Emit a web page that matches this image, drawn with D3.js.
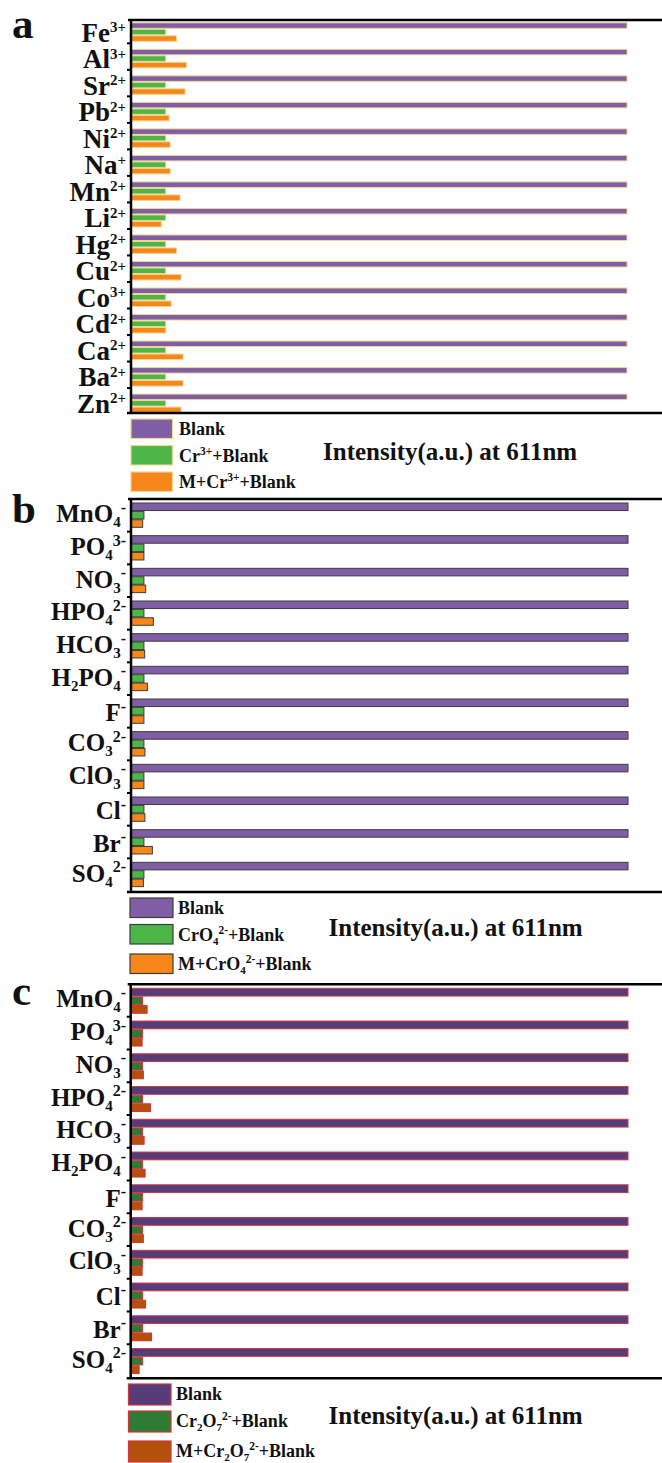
<!DOCTYPE html>
<html>
<head>
<meta charset="utf-8">
<script src="https://cdn.jsdelivr.net/npm/d3@7/dist/d3.min.js"></script>
<style>
  html, body { margin: 0; padding: 0; background: #fff; }
  svg { display: block; }
  text { font-family: "Liberation Serif", "Times New Roman", serif; font-weight: bold; fill: #111; }
</style>
</head>
<body>
<svg id="chart" width="662" height="1463"></svg>
<script>
'use strict';

/* ── Data (relative intensity, Blank = 100) ── */
const cationLabels = ['Fe^{3+}', 'Al^{3+}', 'Sr^{2+}', 'Pb^{2+}', 'Ni^{2+}', 'Na^{+}', 'Mn^{2+}', 'Li^{2+}',
  'Hg^{2+}', 'Cu^{2+}', 'Co^{3+}', 'Cd^{2+}', 'Ca^{2+}', 'Ba^{2+}', 'Zn^{2+}'];
const cationBlank = [100, 100, 100, 100, 100, 100, 100, 100, 100, 100, 100, 100, 100, 100, 100];
const cationCr = [7.0, 7.0, 7.0, 7.0, 7.0, 7.0, 7.0, 7.0, 7.0, 7.0, 7.0, 7.0, 7.0, 7.0, 7.0];
const cationMCr = [9.2, 11.2, 10.9, 7.7, 7.9, 7.9, 9.9, 6.1, 9.2, 10.1, 8.1, 7.0, 10.5, 10.5, 10.1];

const anionLabels = ['MnO_{4}^{-}', 'PO_{4}^{3-}', 'NO_{3}^{-}', 'HPO_{4}^{2-}', 'HCO_{3}^{-}', 'H_{2}PO_{4}^{-}',
  'F^{-}', 'CO_{3}^{2-}', 'ClO_{3}^{-}', 'Cl^{-}', 'Br^{-}', 'SO_{4}^{2-}'];

const chromateBlank = [100, 100, 100, 100, 100, 100, 100, 100, 100, 100, 100, 100];
const chromate = [2.6, 2.6, 2.6, 2.6, 2.6, 2.6, 2.6, 2.6, 2.6, 2.6, 2.6, 2.6];
const mChromate = [2.35, 2.6, 2.95, 4.5, 2.75, 3.3, 2.6, 2.8, 2.6, 2.8, 4.3, 2.5];

const dichromateBlank = [100, 100, 100, 100, 100, 100, 100, 100, 100, 100, 100, 100];
const dichromate = [2.4, 2.4, 2.4, 2.4, 2.4, 2.4, 2.4, 2.4, 2.4, 2.4, 2.4, 2.4];
const mDichromate = [3.3, 2.3, 2.55, 4.0, 2.7, 2.9, 2.3, 2.55, 2.3, 3.0, 4.2, 1.7];

const seriesA = ['Blank', 'Cr^{3+}+Blank', 'M+Cr^{3+}+Blank'];
const seriesB = ['Blank', 'CrO_{4}^{2-}+Blank', 'M+CrO_{4}^{2-}+Blank'];
const seriesC = ['Blank', 'Cr_{2}O_{7}^{2-}+Blank', 'M+Cr_{2}O_{7}^{2-}+Blank'];
const axisTitle = 'Intensity(a.u.) at 611nm';

/* ── Layout / style per panel ── */
const panels = [
  {
    letter: 'a', letterY: 38, cats: cationLabels, values: [cationBlank, cationCr, cationMCr], series: seriesA,
    top: 20, bottom: 413, band: [16.8, 414.6], x0: 131, x1: 627, inner: [6, 24.5], innerPad: 0.15,
    fill: ['#7f5ea6', '#4cb748', '#f7861b'], stroke: '#efd690',
    labelSize: 27, subSize: 15, supSize: 15, labelBase: 24.8, labelBaseSub: 24.8,
    legY: [419, 445.5, 472], swX: 131, swW: 41.5, swH: 19.5, legX: 179,
    titleX: 323, titleY: 460
  },
  {
    letter: 'b', letterY: 523, cats: anionLabels, values: [chromateBlank, chromate, mChromate], series: seriesB,
    top: 499, bottom: 892, band: [499, 891], x0: 131, x1: 628, inner: [4, 28.3], innerPad: 0.1,
    fill: ['#7f5ea6', '#4cb748', '#f7861b'], stroke: '#3c3c3c',
    labelSize: 25, subSize: 15, supSize: 16, labelBase: 26, labelBaseSub: 23.4,
    legY: [898, 924.5, 954], swX: 130, swW: 43, swH: 19.5, legX: 178,
    titleX: 328.5, titleY: 935.7
  },
  {
    letter: 'c', letterY: 1005, cats: anionLabels, values: [dichromateBlank, dichromate, mDichromate], series: seriesC,
    top: 984.3, bottom: 1378.3, band: [984, 1377], x0: 130.7, x1: 628, inner: [4.3, 29.3], innerPad: 0.1,
    fill: ['#563c78', '#2e7b33', '#b5500c'], stroke: '#d2343a',
    labelSize: 25, subSize: 15, supSize: 16, labelBase: 26, labelBaseSub: 23.4,
    legY: [1384, 1411, 1441], swX: 128.5, swW: 42.5, swH: 21, legX: 176,
    titleX: 328.5, titleY: 1424
  }
];

const svg = d3.select('#chart');

/* ── Rich text: _{sub} and ^{sup} ── */
function parseRich(s) {
  const out = [];
  let i = 0, buf = '';
  while (i < s.length) {
    const c = s[i];
    if ((c === '_' || c === '^') && s[i + 1] === '{') {
      if (buf) { out.push({ t: buf, k: 'n' }); buf = ''; }
      const j = s.indexOf('}', i);
      out.push({ t: s.slice(i + 2, j), k: c === '_' ? 'sub' : 'sup' });
      i = j + 1;
    } else { buf += c; i++; }
  }
  if (buf) out.push({ t: buf, k: 'n' });
  return out;
}

function richText(sel, str, o) {
  let cur = 0;
  parseRich(str).forEach(seg => {
    const target = seg.k === 'sub' ? o.subDy : seg.k === 'sup' ? -o.supDy : 0;
    const size = seg.k === 'n' ? o.size : seg.k === 'sub' ? o.subSize : o.supSize;
    sel.append('tspan')
      .attr('dy', target - cur)
      .style('font-size', size + 'px')
      .text(seg.t);
    cur = target;
  });
}

/* ── Panel ── */
function drawPanel(p) {
  const g = svg.append('g');
  const y = d3.scaleBand().domain(p.cats).range(p.band);
  const x = d3.scaleLinear().domain([0, 100]).range([p.x0, p.x1]);
  const inner = d3.scaleBand().domain(d3.range(p.values.length)).range(p.inner).paddingInner(p.innerPad);

  p.values.forEach((vals, si) => {
    g.append('g').selectAll('rect')
      .data(p.cats)
      .join('rect')
      .attr('x', x(0))
      .attr('y', d => y(d) + inner(si))
      .attr('width', (d, i) => x(vals[i]) - x(0))
      .attr('height', inner.bandwidth())
      .attr('fill', p.fill[si])
      .attr('stroke', p.stroke)
      .attr('stroke-width', 1);
  });

  // frame: top, bottom, left axis
  const frame = g.append('g').attr('stroke', '#000').attr('stroke-width', 2.5);
  frame.append('line').attr('x1', p.x0 - 3).attr('x2', 662).attr('y1', p.top).attr('y2', p.top);
  frame.append('line').attr('x1', p.x0 - 4).attr('x2', 662).attr('y1', p.bottom).attr('y2', p.bottom);
  frame.append('line').attr('x1', p.x0).attr('x2', p.x0).attr('y1', p.top).attr('y2', p.bottom);

  // ticks at category boundaries
  frame.selectAll('line.tick')
    .data(p.cats.slice(1))
    .join('line')
    .attr('class', 'tick')
    .attr('stroke-width', 2)
    .attr('x1', p.x0 - 4).attr('x2', p.x0)
    .attr('y1', d => y(d)).attr('y2', d => y(d));

  // category labels
  g.append('g').selectAll('text')
    .data(p.cats)
    .join('text')
    .attr('x', 126)
    .attr('y', d => y(d) + (d.includes('_') ? p.labelBaseSub : p.labelBase))
    .attr('text-anchor', 'end')
    .each(function (d) {
      richText(d3.select(this), d, { size: p.labelSize, subSize: p.subSize, supSize: p.supSize, subDy: 5, supDy: 9.5 });
    });

  // panel letter
  g.append('text')
    .attr('x', 12).attr('y', p.letterY)
    .style('font-size', '43px')
    .text(p.letter);

  // legend
  const leg = g.append('g');
  p.series.forEach((s, i) => {
    leg.append('rect')
      .attr('x', p.swX).attr('y', p.legY[i])
      .attr('width', p.swW).attr('height', p.swH)
      .attr('fill', p.fill[i])
      .attr('stroke', p.stroke)
      .attr('stroke-width', 1.2);
    const t = leg.append('text')
      .attr('x', p.legX)
      .attr('y', p.legY[i] + 16);
    richText(t, s, { size: 18, subSize: 11, supSize: 11.5, subDy: 4, supDy: 7 });
  });

  g.append('text')
    .attr('x', p.titleX).attr('y', p.titleY)
    .style('font-size', '25px')
    .text(axisTitle);
}

panels.forEach(drawPanel);
</script>
</body>
</html>
